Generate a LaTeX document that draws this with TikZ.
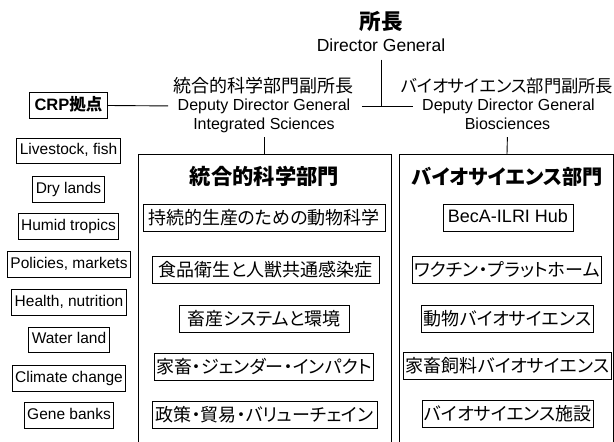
\documentclass[tikz,border=0pt]{standalone}
\usepackage{fontspec}
\setmainfont{Liberation Sans}
\newfontfamily\jp[RawFeature={+palt}]{Noto Sans CJK JP}
\begin{document}
\begin{tikzpicture}[x=1pt,y=-1pt,
  lat/.style={inner sep=0pt, text height=11.5pt, text depth=3.4pt, font=\fontsize{16}{18}\selectfont},
  jtxt/.style={inner sep=0pt, text height=15.8pt, text depth=2.2pt, font=\jp\fontsize{18}{20}\selectfont},
  crpitem/.style={draw, line width=0.9pt, font=\fontsize{15.5}{18}\selectfont, text height=11pt, text depth=3.3pt, inner xsep=3pt, inner ysep=5.6pt},
  unit/.style={draw, line width=0.9pt, font=\jp\fontsize{18}{20}\selectfont, text height=15.8pt, text depth=2.2pt, inner xsep=2pt, inner ysep=4.5pt},
  conn/.style={line width=0.9pt},
  dept/.style={line width=1pt}]
\useasboundingbox (0,0) rectangle (614,442);

% top
\node[jtxt, font=\jp\bfseries\fontsize{21.5}{24}\selectfont] (dgj) at (381,23) {所長};
\node[lat, font=\fontsize{17.5}{20}\selectfont] (dge) at (381,47) {Director General};

% deputies
\node[jtxt] (ldj) at (263.5,86) {統合的科学部門副所長};
\node[lat] (ldd) at (264,106) {Deputy Director General};
\node[lat] (ldi) at (264,125) {Integrated Sciences};
\node[jtxt, font=\jp\fontsize{17.3}{20}\selectfont] (rdj) at (507,86) {バイオサイエンス部門副所長};
\node[lat] (rdd) at (508.5,106) {Deputy Director General};
\node[lat] (rdi) at (507.5,125) {Biosciences};

% CRP
\node[draw, line width=0.9pt, inner xsep=5pt, text height=12.5pt, text depth=3pt, inner ysep=5.5pt,
      font=\bfseries\fontsize{16.5}{19}\selectfont] (crp) at (68.5,105.5) {CRP{\jp 拠点}};

\node[crpitem] (c1) at (68.5,151) {Livestock, fish};
\node[crpitem] (c2) at (68.5,189.5) {Dry lands};
\node[crpitem] (c3) at (68.5,226.5) {Humid tropics};
\node[crpitem] (c4) at (69,264.5) {Policies, markets};
\node[crpitem] (c5) at (69,302.5) {Health, nutrition};
\node[crpitem] (c6) at (69,340) {Water land};
\node[crpitem] (c7) at (69,378.5) {Climate change};
\node[crpitem] (c8) at (69,415.5) {Gene banks};

% department boxes (open at the bottom)
\coordinate (ltop) at (264,154);
\coordinate (rtop) at (507,154);
\draw[dept] (138,442) -- (138,154) -- (391,154) -- (391,442);
\draw[dept] (399,442) -- (399,154) -- (613,154) -- (613,442);

\node[jtxt, font=\jp\bfseries\fontsize{21.3}{24}\selectfont] (lh) at (264.5,178) {統合的科学部門};
\node[jtxt, font=\jp\bfseries\fontsize{20.2}{24}\selectfont] (rh) at (507.5,178) {バイオサイエンス部門};

\node[unit, minimum width=242pt] (l1) at (264,217.5) {持続的生産のための動物科学};
\node[unit, minimum width=227pt] (l2) at (265.5,270) {食品衛生と人獣共通感染症};
\node[unit, minimum width=170pt] (l3) at (264,319) {畜産システムと環境};
\node[unit, minimum width=214pt] (l4) at (264,366.5) {家畜・ジェンダー・インパクト};
\node[unit, minimum width=225pt] (l5) at (264.5,414.5) {政策・貿易・バリューチェイン};

\node[unit, minimum width=130pt, font=\fontsize{18}{21}\selectfont, text height=13pt, text depth=3.8pt, inner ysep=5pt] (r1) at (508,218) {BecA-ILRI Hub};
\node[unit, minimum width=182pt] (r2) at (507,270) {ワクチン・プラットホーム};
\node[unit, minimum width=169pt] (r3) at (507.5,319) {動物バイオサイエンス};
\node[unit, minimum width=207pt] (r4) at (507.5,365.5) {家畜飼料バイオサイエンス};
\node[unit, minimum width=170pt] (r5) at (508,413.5) {バイオサイエンス施設};

% connectors
\draw[conn, shorten <=5pt] (dge.south) -- (dge.south |- ldd.center);
\draw[conn, shorten <=11.5pt, shorten >=9pt] (ldd.east) -- (rdd.west);
\draw[conn, shorten >=9.5pt] (crp.east) -- (ldd.west);
\draw[conn, shorten <=4.5pt] (ldi.south) -- (ltop);
\draw[conn, shorten <=4.5pt] (rdi.south) -- (rtop);
\end{tikzpicture}
\end{document}
